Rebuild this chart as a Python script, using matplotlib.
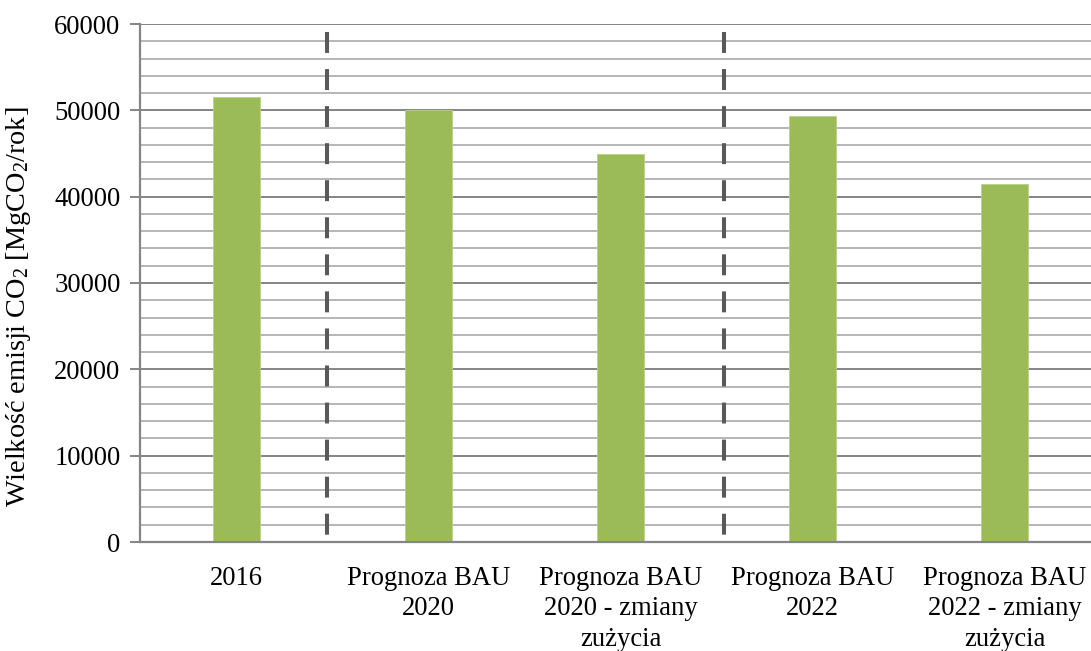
import matplotlib
matplotlib.use("Agg")
import matplotlib.pyplot as plt
from matplotlib.ticker import MultipleLocator

plt.rcParams['font.family'] = ['Liberation Serif', 'DejaVu Serif']
plt.rcParams['mathtext.fontset'] = 'custom'
plt.rcParams['mathtext.rm'] = 'Liberation Serif'
plt.rcParams['mathtext.it'] = 'Liberation Serif:italic'

categories = ["2016", "Prognoza BAU\n2020", "Prognoza BAU\n2020 - zmiany\nzużycia",
              "Prognoza BAU\n2022", "Prognoza BAU\n2022 - zmiany\nzużycia"]
values = [51500, 50000, 45000, 49400, 41500]
separators = [0.473, 2.539]
y_ticks = [0, 10000, 20000, 30000, 40000, 50000, 60000]

FS = 19.2

fig = plt.figure(figsize=(10.91, 6.51), dpi=100)
ax = fig.add_axes([140/1091, 1-542/651, 1-140/1091, (542-24)/651])

x = list(range(len(categories)))
ax.bar(x, values, width=0.245, color='#9BBB59', edgecolor='#B9D18A', linewidth=0.6, zorder=3)

ax.set_ylim(0, 60000)
ax.set_xlim(-0.5, 4.448)
ax.set_yticks(y_ticks)
ax.yaxis.set_minor_locator(MultipleLocator(2000))
ax.grid(which='major', axis='y', color='#858585', linewidth=1.4, zorder=1)
ax.grid(which='minor', axis='y', color='#B5B5B5', linewidth=1.4, zorder=1)
ax.set_xticks(x)
ax.set_xticklabels(categories, fontsize=FS, linespacing=1.3)
ax.tick_params(axis='x', length=0, pad=17)
ax.tick_params(axis='y', which='major', length=7, color='#858585', width=1.4, labelsize=FS, pad=7)
ax.tick_params(axis='y', which='minor', length=0)

for s in ['top', 'right']:
    ax.spines[s].set_visible(False)
for s in ['left', 'bottom']:
    ax.spines[s].set_color('#858585')
    ax.spines[s].set_linewidth(1.6)
ax.spines['bottom'].set_zorder(4)

for sx in separators:
    ax.plot([sx, sx], [59100, 0], color='#595959', linewidth=2.9,
            linestyle=(0, (5.2, 4.0)), zorder=4, solid_capstyle='butt', dash_capstyle='butt')

ax.set_ylabel(r'Wielkość emisji CO$_\mathregular{2}$ [MgCO$_\mathregular{2}$/rok]', fontsize=20.3)
ax.yaxis.set_label_coords(-0.113, 0.454)

fig.savefig('out.png', dpi=100)
